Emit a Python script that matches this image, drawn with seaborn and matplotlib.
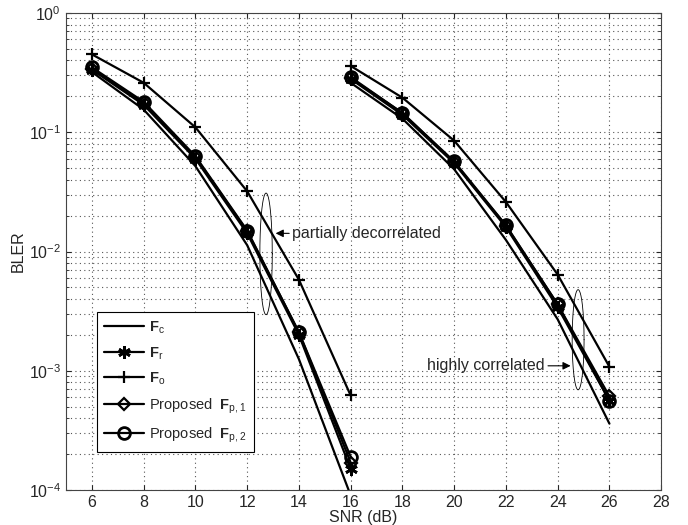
import numpy as np
import pandas as pd
import seaborn as sns
import matplotlib.pyplot as plt
from matplotlib.ticker import LogLocator, NullFormatter
from matplotlib.lines import Line2D

# SNR points for the two channel cases
snr_low = [6, 8, 10, 12, 14, 16]
snr_high = [16, 18, 20, 22, 24, 26]

# partially decorrelated
fc_low = [0.32, 0.155, 0.052, 0.0113, 0.00125, 9.0e-5]
fr_low = [0.335, 0.17, 0.060, 0.0142, 0.0020, 1.5e-4]
fo_low = [0.45, 0.26, 0.11, 0.032, 0.0058, 6.2e-4]
fp1_low = [0.34, 0.175, 0.062, 0.0148, 0.0021, 1.7e-4]
fp2_low = [0.35, 0.18, 0.063, 0.015, 0.0021, 1.9e-4]

# highly correlated
fc_high = [0.26, 0.13, 0.049, 0.0125, 0.0027, 3.6e-4]
fr_high = [0.28, 0.14, 0.055, 0.016, 0.0034, 5.6e-4]
fo_high = [0.36, 0.195, 0.085, 0.026, 0.0064, 1.08e-3]
fp1_high = [0.285, 0.145, 0.056, 0.0165, 0.0036, 6.1e-4]
fp2_high = [0.29, 0.145, 0.057, 0.0166, 0.0036, 5.6e-4]

labels = [r"$\mathbf{F}_{\mathrm{c}}$", r"$\mathbf{F}_{\mathrm{r}}$", r"$\mathbf{F}_{\mathrm{o}}$",
          r"Proposed  $\mathbf{F}_{\mathrm{p,1}}$", r"Proposed  $\mathbf{F}_{\mathrm{p,2}}$"]
low = [fc_low, fr_low, fo_low, fp1_low, fp2_low]
high = [fc_high, fr_high, fo_high, fp1_high, fp2_high]

rows = []
for lab, lo, hi in zip(labels, low, high):
    for s, v in zip(snr_low, lo):
        rows.append((lab, "low", s, v))
    for s, v in zip(snr_high, hi):
        rows.append((lab, "high", s, v))
df = pd.DataFrame(rows, columns=["scheme", "case", "snr", "bler"])

sns.set_style("ticks")
plt.rcParams['font.family'] = ['Liberation Sans', 'DejaVu Sans']
plt.rcParams['mathtext.fontset'] = 'custom'
plt.rcParams['mathtext.rm'] = 'Liberation Sans'
plt.rcParams['mathtext.bf'] = 'Liberation Sans:bold'

fig = plt.figure(figsize=(6.88, 5.25), dpi=100)
ax = fig.add_axes([0.096, 0.0667, 0.865, 0.9085])

styles = {
    labels[0]: dict(marker=None),
    labels[1]: dict(marker=(6, 2, 0), markersize=9, markeredgewidth=2.0),
    labels[2]: dict(marker="+", markersize=9, markeredgewidth=1.6),
    labels[3]: dict(marker="D", markersize=6.5, markeredgewidth=1.6, markerfacecolor="none"),
    labels[4]: dict(marker="o", markersize=8.5, markeredgewidth=2.0, markerfacecolor="none"),
}

for lab in labels:
    sub = df[df.scheme == lab]
    sns.lineplot(data=sub, x="snr", y="bler", units="case", estimator=None,
                 color="black", linewidth=1.6, ax=ax, legend=False,
                 markeredgecolor="black", **styles[lab])

ax.set_yscale("log")
ax.set_xlim(5, 28)
ax.set_ylim(1e-4, 1)
ax.set_xticks(range(6, 29, 2))
ax.yaxis.set_major_locator(LogLocator(base=10, numticks=10))
ax.yaxis.set_minor_locator(LogLocator(base=10, subs=np.arange(2, 10), numticks=50))
ax.yaxis.set_minor_formatter(NullFormatter())
ax.grid(True, which="major", axis="both", linestyle=(0, (1, 3)), color="#555555", linewidth=0.8)
ax.grid(True, which="minor", axis="y", linestyle=(0, (1, 3)), color="#555555", linewidth=0.8)
ax.tick_params(which="both", direction="in", top=True, right=True, labelsize=11.5)
for sp in ax.spines.values():
    sp.set_color("#444444")
ax.set_xlabel("SNR (dB)", fontsize=11.5, labelpad=0)
ax.set_ylabel("BLER", fontsize=11.5, labelpad=2)

# ellipses marking the curve groups
t = np.linspace(0, 2 * np.pi, 200)
ax.plot(12.73 + 0.24 * np.cos(t), 10 ** (-2.02 + 0.51 * np.sin(t)), color="black", lw=0.6)
ax.plot(24.79 + 0.23 * np.cos(t), 10 ** (-2.74 + 0.42 * np.sin(t)), color="black", lw=0.6)

ax.annotate("partially decorrelated", xy=(13.1, 0.0142), xytext=(13.75, 0.0142),
            ha="left", va="center", fontsize=11.5,
            arrowprops=dict(arrowstyle="-|>", color="black", lw=0.8, shrinkA=0, shrinkB=0))
ax.annotate("highly correlated", xy=(24.5, 1.1e-3), xytext=(23.5, 1.1e-3),
            ha="right", va="center", fontsize=11.5,
            arrowprops=dict(arrowstyle="-|>", color="black", lw=0.8, shrinkA=0, shrinkB=0))

handles = [Line2D([], [], color="black", linewidth=1.6, markeredgecolor="black", **styles[l]) for l in labels]
leg = ax.legend(handles, labels, loc="lower left", bbox_to_anchor=(0.052, 0.08),
                borderaxespad=0, fontsize=10.5, handlelength=2.7, handletextpad=0.4,
                labelspacing=0.62, borderpad=0.5,
                fancybox=False, framealpha=1, edgecolor="black")
leg.get_frame().set_linewidth(0.8)

fig.savefig("out.png", dpi=100)
